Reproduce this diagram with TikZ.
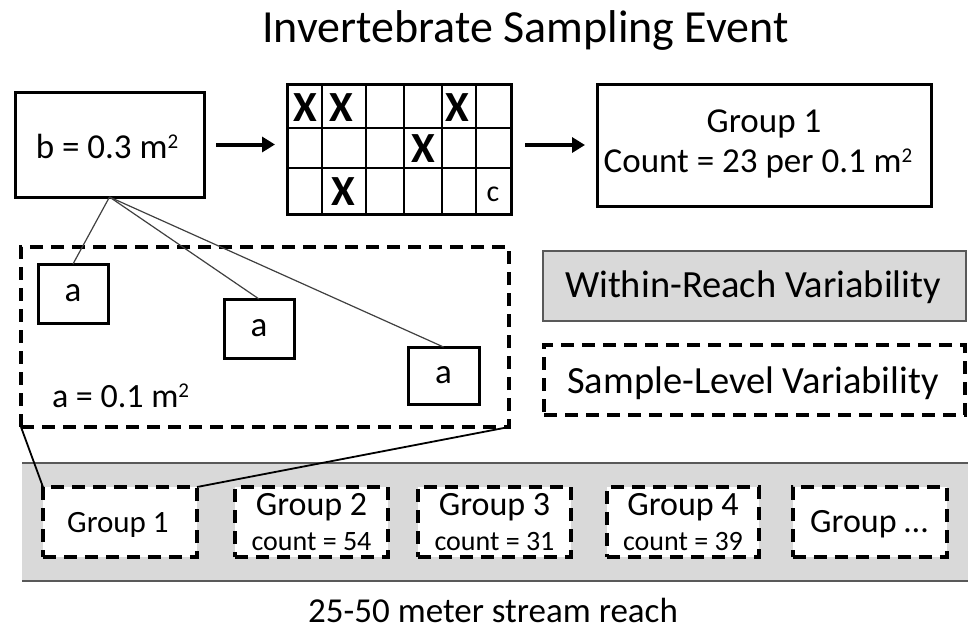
\documentclass[tikz,border=0pt]{standalone}
\usepackage{fontspec}
\setmainfont{Carlito}
\usetikzlibrary{arrows.meta}
\newcommand{\myfs}[1]{\fontsize{#1}{#1}\selectfont}
\newcommand{\sqtwo}{\raisebox{10pt}{\myfs{21}2}}
\definecolor{bandgray}{HTML}{D9D9D9}
\definecolor{edgegray}{HTML}{595959}
\definecolor{thingray}{HTML}{404040}
\begin{document}
\begin{tikzpicture}[x=1pt,y=-1pt,
  solidbox/.style={draw, line width=3pt, fill=white, inner sep=0pt, outer sep=0pt},
  dashbox/.style={draw, line width=3.5pt, dash pattern=on 13pt off 8pt, fill=white, inner sep=0pt, outer sep=0pt},
  txt/.style={inner sep=0pt, outer sep=0pt, anchor=base},
  bigarrow/.style={line width=4pt, -{Triangle[length=13pt,width=15pt]}},
  thinline/.style={draw=thingray, line width=1.2pt},
  linkline/.style={draw=black, line width=1.8pt},
  xmark/.style={inner sep=0pt, font=\myfs{43}\bfseries},
  gridline/.style={line width=1.2pt}
]
\useasboundingbox (0,0) rectangle (968,634);

% title
\node[txt, font=\myfs{46}] (title) at (525.5,43) {Invertebrate Sampling Event};

% b box
\node[solidbox, minimum width=189pt, minimum height=105pt] (b) at (109.5,144.5) {};
\node[txt, font=\myfs{35}] (btext) at (107,158) {b = 0.3 m\sqtwo};

% grid
\node[solidbox, minimum width=224pt, minimum height=130pt] (grid) at (399,149) {};
\foreach \xx in {322,366,404,442,476} \draw[gridline] (\xx,84) -- (\xx,214);
\foreach \yy in {128,168} \draw[gridline] (287,\yy) -- (511,\yy);
\draw[line width=3pt] (grid.north west) rectangle (grid.south east);
\node[xmark] (x1) at (305,108) {X};
\node[xmark] (x2) at (341,108) {X};
\node[xmark] (x3) at (457,108) {X};
\node[xmark] (x4) at (423,149) {X};
\node[xmark] (x5) at (343,192) {X};
\node[txt, font=\myfs{30}] (cl) at (493,201) {c};

% group 1 top right
\node[solidbox, minimum width=334pt, minimum height=122pt] (g1top) at (764,145) {};
\node[txt, font=\myfs{35}] (g1a) at (764,132) {Group 1};
\node[txt, font=\myfs{35}] (g1b) at (758,172) {Count = 23 per 0.1 m\sqtwo};

% arrows
\draw[bigarrow, shorten <=12pt, shorten >=12pt] (b.east) -- (b.east -| grid.west);
\draw[bigarrow, shorten <=14pt, shorten >=12pt] (grid.east |- g1top.west) -- (g1top.west);

% legend boxes
\node[draw=edgegray, line width=1.5pt, fill=bandgray, minimum width=423pt, minimum height=70pt, inner sep=0pt] (within) at (754.5,286) {};
\node[txt, font=\myfs{38.5}] (withintext) at (753,297) {Within-Reach Variability};
\node[dashbox, minimum width=421pt, minimum height=70pt] (sample) at (754.5,380) {};
\node[txt, font=\myfs{38.5}] (sampletext) at (753,393) {Sample-Level Variability};

% sample-level dashed box with a's
\node[dashbox, minimum width=488pt, minimum height=180pt] (big) at (265,337) {};
\node[txt, anchor=base west, font=\myfs{34}] (alabel) at (52,407) {a = 0.1 m\sqtwo};
\node[solidbox, minimum width=70pt, minimum height=59pt, font=\myfs{35}] (a1) at (73,293.5) {a};
\node[solidbox, minimum width=70pt, minimum height=59pt, font=\myfs{35}] (a2) at (259,328.5) {a};
\node[solidbox, minimum width=71pt, minimum height=57pt, font=\myfs{35}] (a3) at (443.5,375.5) {a};
\draw[thinline] (b.south) -- (a1.north);
\draw[thinline] (b.south) -- (a2.north);
\draw[thinline] (b.south) -- (a3.north);

% stream reach band
\fill[bandgray] (22,463) rectangle (968,581);
\draw[edgegray, line width=2pt] (22,463) -- (968,463);
\draw[edgegray, line width=2pt] (22,581) -- (968,581);

% group boxes
\node[dashbox, minimum width=154pt, minimum height=70pt] (gb1) at (120,522) {};
\node[dashbox, minimum width=153pt, minimum height=70pt] (gb2) at (311.5,522) {};
\node[dashbox, minimum width=153pt, minimum height=70pt] (gb3) at (494.5,522) {};
\node[dashbox, minimum width=152pt, minimum height=70pt] (gb4) at (683,522) {};
\node[dashbox, minimum width=154pt, minimum height=70pt] (gb5) at (870,522) {};
\node[txt, font=\myfs{31}] (gb1t) at (118,532) {Group 1};
\node[txt, font=\myfs{34}] (gb2t) at (311.5,515) {Group 2};
\node[txt, font=\myfs{28}] (gb2c) at (311.5,550) {count = 54};
\node[txt, font=\myfs{34}] (gb3t) at (494.5,515) {Group 3};
\node[txt, font=\myfs{28}] (gb3c) at (494.5,550) {count = 31};
\node[txt, font=\myfs{34}] (gb4t) at (683,515) {Group 4};
\node[txt, font=\myfs{28}] (gb4c) at (683,550) {count = 39};
\node[txt, font=\myfs{34}] (gb5t) at (869,532) {Group …};

\draw[linkline] (big.south west) -- (gb1.north west);
\draw[linkline] (big.south east) -- (gb1.north east);

% caption
\node[txt, font=\myfs{35}] (caption) at (493,622) {25-50 meter stream reach};
\end{tikzpicture}
\end{document}
